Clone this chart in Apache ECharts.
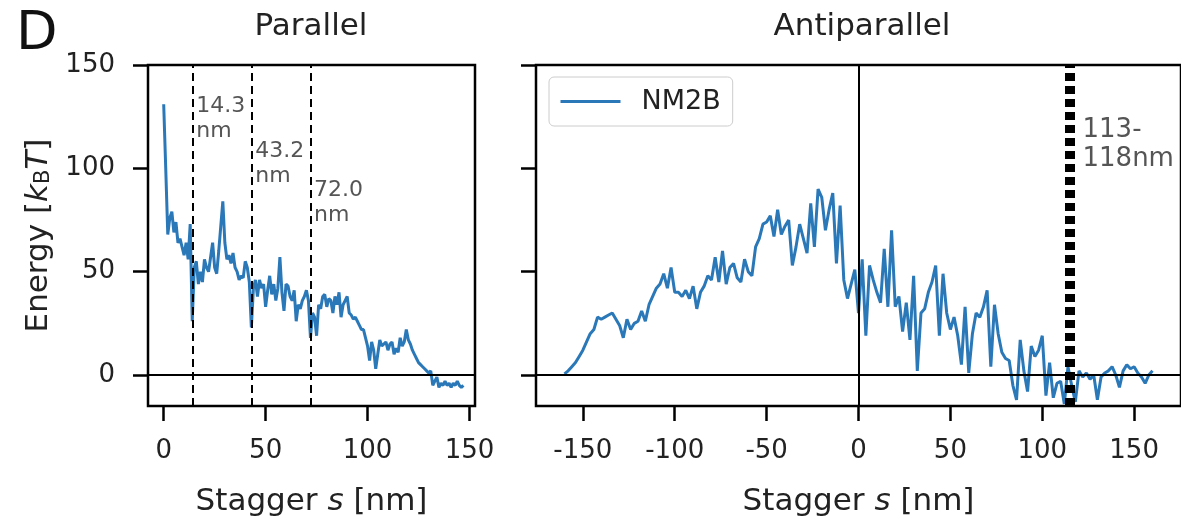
<!DOCTYPE html>
<html>
<head>
<meta charset="UTF-8">
<script src="https://cdn.jsdelivr.net/npm/echarts@6/dist/echarts.min.js"></script>
</head>
<body style="margin: 0">
<div id="main" style="width: 1181px; height: 522px;"></div>
<script type="text/javascript">
// parallel stagger, 1 nm steps starting at 0
var parStart = 0, parStep = 1;
var parEnergy = [
    131, 100, 68, 76, 79, 69, 74, 64, 66, 62,
    58, 64, 56, 73, 26, 52, 55, 44, 50, 45,
    56, 52, 50, 57, 64, 52, 49, 60, 72, 84,
    64, 56, 58, 54, 59, 52, 50, 46, 48, 47,
    55, 52, 45, 23, 42, 46, 38, 46, 42, 44,
    33, 41, 48, 39, 44, 36, 42, 57, 40, 31,
    44, 43, 38, 36, 41, 26, 34, 32, 36, 38,
    41, 36, 18, 30, 28, 19, 34, 32, 38, 39,
    33, 37, 36, 30, 38, 34, 40, 28, 34, 36,
    38, 30, 29, 27, 28, 26, 24, 22, 22, 18,
    14, 7, 16, 12, 3, 10, 17, 14, 15, 16,
    12, 15, 16, 10, 13, 11, 18, 14, 16, 22,
    17, 15, 12, 10, 8, 6, 5, 4, 3, 2,
    1, 2, -5, -3, -1, -6, -4, -5, -3, -5,
    -4, -6, -4, -5, -3, -5, -6, -5
];

// antiparallel stagger, 2 nm steps starting at -160
var antiStart = -160, antiStep = 2;
var antiEnergy = [
    0.5, 2, 4, 6, 9, 12, 16, 20, 22, 28,
    27, 28, 29, 30, 27, 24, 18, 27, 22, 25,
    26, 31, 26, 34, 38, 42, 44, 49, 42, 52,
    40, 40, 38, 41, 37, 43, 32, 40, 43, 48,
    46, 57, 45, 60, 44, 52, 54, 47, 45, 56,
    50, 48, 62, 66, 73, 74, 77, 67, 80, 68,
    72, 75, 53, 62, 73, 66, 59, 83, 62, 90,
    86, 70, 80, 88, 54, 82, 46, 37, 44, 51,
    30, 56, 19, 53, 46, 40, 35, 61, 33, 70,
    33, 38, 21, 35, 17, 48, 2, 30, 32, 40,
    45, 53, 19, 49, 30, 22, 28, 19, 5, 33,
    1, 20, 30, 28, 33, 41, 4, 34, 20, 11,
    8, 7, -5, -12, 17, 2, -8, 14, 9, 12,
    19, -10, 6, -11, -4, -3, -14, 4, -5, -13,
    2, -1, 1, -2, 0, -12, -1, 1, 2, 4,
    0, -6, 2, 5, 3, 4, 1, -1, -4, 0,
    2
];

var parMarks = [14.3, 43.2, 72.0];
var parMarkText = ['14.3\nnm', '43.2\nnm', '72.0\nnm'];
var parMarkTextY = [136, 114, 95];
var antiMarks = [113, 114, 115, 116, 117];
var antiMarkText = '113-\n118nm';
var antiMarkTextAt = [120, 125];

var yTicks = [0, 50, 100, 150];
var parTicks = [0, 50, 100, 150];
var antiTicks = [-150, -100, -50, 0, 50, 100, 150];

var FONT = 'DejaVu Sans';
var BLUE = '#2a78b8';

function toPoints(start, step, vals) {
    return vals.map(function (e, i) { return [start + i * step, e]; });
}

var myChart = echarts.init(document.getElementById('main'));

var nameRich = {
    i: { fontStyle: 'italic', fontSize: 31, fontFamily: FONT, color: '#222' },
    sub: { fontSize: 21, fontFamily: FONT, color: '#222', verticalAlign: 'bottom', padding: [8, 0, 0, 0] }
};

function xAxisOf(idx, min, max, ticks) {
    return {
        gridIndex: idx, type: 'value', min: min, max: max,
        axisLine: { show: false, onZero: false },
        axisTick: { customValues: ticks, length: 15, lineStyle: { color: '#000', width: 2.5 } },
        axisLabel: { customValues: ticks, margin: 32, fontSize: 26, color: '#222', fontFamily: FONT },
        splitLine: { show: false },
        name: 'Stagger {i|s} [nm]', nameLocation: 'middle', nameGap: 80,
        nameTextStyle: { fontSize: 31, color: '#222', fontFamily: FONT, rich: nameRich }
    };
}

function yAxisOf(idx, withLabels) {
    var ax = {
        gridIndex: idx, type: 'value', min: -15, max: 150,
        axisLine: { show: false, onZero: false },
        axisTick: { customValues: yTicks, length: 15, lineStyle: { color: '#000', width: 2.5 } },
        axisLabel: { show: withLabels, customValues: yTicks, margin: 33, fontSize: 26, color: '#222', fontFamily: FONT },
        splitLine: { show: false }
    };
    if (withLabels) {
        ax.name = 'Energy [{i|k}{sub|B}{i|T}]';
        ax.nameLocation = 'middle';
        ax.nameGap = 94;
        ax.nameTextStyle = { fontSize: 31, color: '#222', fontFamily: FONT, rich: nameRich };
    }
    return ax;
}

var solid = { type: 'solid', width: 2, color: '#000' };
var dashed = { type: [8, 5], width: 2, color: '#000' };

var annLabel = {
    show: true, position: [4, 0], align: 'left', verticalAlign: 'top',
    color: '#2a2a2a', fontFamily: FONT
};

var option = {
    animation: false,
    title: [
        { text: 'D', left: 16, top: 8, padding: 0, textStyle: { fontSize: 54, fontWeight: 'normal', color: '#111', fontFamily: FONT } },
        { text: 'Parallel', left: 311, top: 11, textAlign: 'center', padding: 0, textStyle: { fontSize: 31, fontWeight: 'normal', color: '#222', fontFamily: FONT } },
        { text: 'Antiparallel', left: 862, top: 11, textAlign: 'center', padding: 0, textStyle: { fontSize: 31, fontWeight: 'normal', color: '#222', fontFamily: FONT } }
    ],
    legend: {
        data: ['NM2B'], left: 549, top: 77,
        padding: [11, 12, 11, 10],
        borderColor: '#ccc', borderWidth: 1, borderRadius: 5,
        backgroundColor: 'rgba(255,255,255,0.8)',
        itemWidth: 60, itemHeight: 14,
        itemStyle: { opacity: 0 },
        lineStyle: { width: 3 },
        textStyle: { fontSize: 27, color: '#222', fontFamily: FONT, padding: [0, 0, 0, 16] }
    },
    grid: [
        { left: 148, top: 65, width: 327, height: 342, show: true, borderColor: '#000', borderWidth: 2.5 },
        { left: 536, top: 65, width: 653, height: 342, show: true, borderColor: '#000', borderWidth: 2.5 }
    ],
    xAxis: [
        xAxisOf(0, -7.7, 152.7, parTicks),
        xAxisOf(1, -175.5, 175.5, antiTicks)
    ],
    yAxis: [
        yAxisOf(0, true),
        yAxisOf(1, false)
    ],
    series: [
        {
            name: 'NM2B', type: 'line', xAxisIndex: 0, yAxisIndex: 0,
            data: toPoints(parStart, parStep, parEnergy),
            symbol: 'none', lineStyle: { color: BLUE, width: 3 }, itemStyle: { color: BLUE },
            markLine: {
                silent: true, symbol: 'none', label: { show: false },
                data: [{ yAxis: 0, lineStyle: solid }].concat(parMarks.map(function (v) {
                    return { xAxis: v, lineStyle: dashed };
                }))
            }
        },
        {
            name: 'NM2B', type: 'line', xAxisIndex: 1, yAxisIndex: 1,
            data: toPoints(antiStart, antiStep, antiEnergy),
            symbol: 'none', lineStyle: { color: BLUE, width: 3 }, itemStyle: { color: BLUE },
            markLine: {
                silent: true, symbol: 'none', label: { show: false },
                data: [{ yAxis: 0, lineStyle: solid }, { xAxis: 0, lineStyle: solid }].concat(antiMarks.map(function (v) {
                    return { xAxis: v, lineStyle: dashed };
                }))
            }
        },
        {
            type: 'scatter', xAxisIndex: 0, yAxisIndex: 0, silent: true,
            symbolSize: 1, itemStyle: { color: 'rgba(0,0,0,0)' },
            label: Object.assign({ fontSize: 22, lineHeight: 25 }, annLabel),
            data: parMarks.map(function (v, i) {
                return { value: [v, parMarkTextY[i]], label: { formatter: parMarkText[i] } };
            })
        },
        {
            type: 'scatter', xAxisIndex: 1, yAxisIndex: 1, silent: true,
            symbolSize: 1, itemStyle: { color: 'rgba(0,0,0,0)' },
            label: Object.assign({ fontSize: 26, lineHeight: 29 }, annLabel),
            data: [{ value: antiMarkTextAt, label: { formatter: antiMarkText } }]
        }
    ]
};

myChart.setOption(option);
</script>
</body>
</html>
